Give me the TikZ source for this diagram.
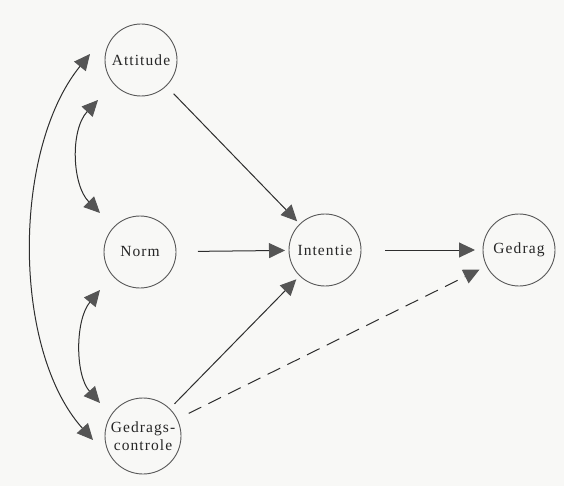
\documentclass[tikz,border=0pt]{standalone}
\usepackage{fontspec}
\setmainfont{Liberation Serif}[LetterSpace=7]
\usetikzlibrary{arrows.meta}
\definecolor{bg}{HTML}{F8F8F6}
\definecolor{ln}{HTML}{2E2E2E}
\definecolor{hd}{HTML}{555555}
\begin{document}
\begin{tikzpicture}[x=1pt,y=-1pt,
  concept/.style={circle,draw=ln!80,line width=0.9pt,minimum size=72pt,inner sep=0pt,outer sep=0pt,
    font=\fontsize{15.5}{18}\selectfont,align=center,text=black!85},
  tip/.style={-{Triangle[length=16pt,width=15pt,fill=hd,color=hd]}},
  dtip/.style={{Triangle[length=16pt,width=15pt,fill=hd,color=hd]}-{Triangle[length=16pt,width=15pt,fill=hd,color=hd]}},
  conn/.style={draw=ln,line width=1pt}]
\fill[bg] (0,0) rectangle (564,486);
\useasboundingbox (0,0) rectangle (564,486);

\node[concept] (att) at (141,60) {Attitude};
\node[concept] (norm) at (140,252) {Norm};
\node[concept] (int) at (325,250) {Intentie};
\node[concept] (ged) at (519,250) {Gedrag};
\node[concept,minimum size=76pt] (gc) at (143,436) {Gedrags-\\controle};

% straight arrows
\draw[conn,tip,shorten <=11pt,shorten >=4pt] (att) -- (int);
\draw[conn,tip,shorten <=22pt,shorten >=4pt] (norm) -- (int);
\draw[conn,tip,shorten <=24pt,shorten >=8pt] (int) -- (ged);
\draw[conn,tip,dash pattern=on 14pt off 8pt,shorten <=13pt,shorten >=8pt] (gc) -- (ged);
\draw[conn,tip,shorten <=7pt,shorten >=5pt] (gc) -- (int);

% curved double arrows
\coordinate (t1) at (98,100);
\coordinate (t2) at (100,213);
\coordinate (t3) at (100,290);
\coordinate (t4) at (100,403);
\coordinate (t5) at (90,54);
\coordinate (t6) at (93,440);
\draw[conn,dtip] (t1) .. controls (70,130) and (72,185) .. (t2);
\draw[conn,dtip] (t3) .. controls (75,320) and (75,375) .. (t4);
\draw[conn,dtip] (t5) .. controls (12,150) and (12,350) .. (t6);
\end{tikzpicture}
\end{document}
